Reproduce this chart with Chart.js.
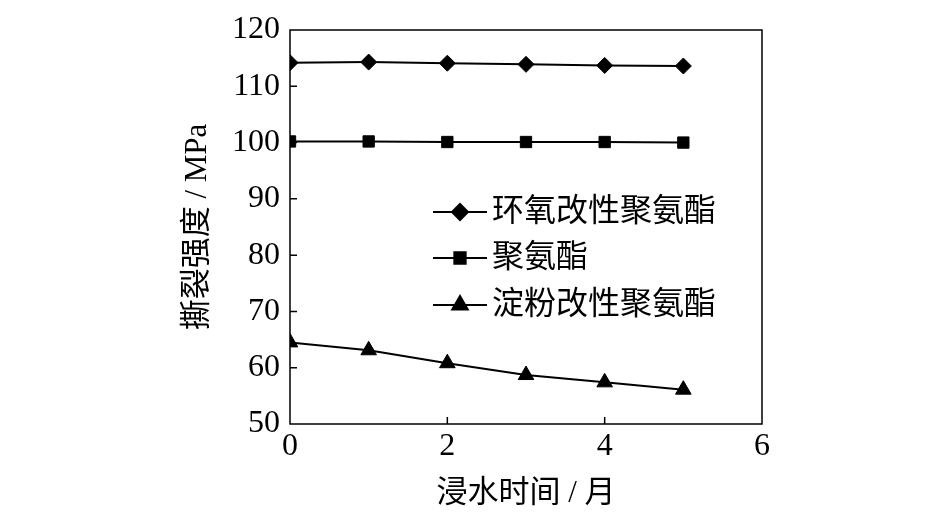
<!DOCTYPE html>
<html><head><meta charset="utf-8">
<script src="https://cdn.jsdelivr.net/npm/chart.js@4"></script>
<style>html,body{margin:0;padding:0;background:#fff}#wrap{width:945px;height:532px}</style>
</head><body><div id="wrap"><canvas id="c" width="945" height="532"></canvas></div>
<script>
const months = [0, 1, 2, 3, 4, 5];
const epoxyPU = [114.2, 114.3, 114.1, 113.9, 113.7, 113.6];
const pu = [100.2, 100.2, 100.1, 100.1, 100.1, 100.0];
const starchPU = [64.5, 63.1, 60.8, 58.7, 57.4, 56.1];
const seriesLabels = ['环氧改性聚氨酯', '聚氨酯', '淀粉改性聚氨酯'];
const xTitle = '浸水时间 / 月';
const yTitle = '撕裂强度 / MPa';

const FONT = '"Liberation Serif", "Noto Sans CJK SC", serif';

function mk(label, data, style, r) {
  return {
    label, data: months.map((m, i) => ({x: m, y: data[i]})),
    borderColor: '#000', backgroundColor: '#000', borderWidth: 2,
    pointStyle: style, pointRadius: r, pointHoverRadius: r,
    pointBorderWidth: 1, tension: 0
  };
}

const frame = {
  id: 'frame',
  afterDraw(chart) {
    const {ctx, chartArea: a, scales} = chart;
    ctx.save();
    ctx.strokeStyle = '#000';
    ctx.lineWidth = 1.5;
    ctx.strokeRect(a.left, a.top, a.right - a.left, a.bottom - a.top);
    ctx.beginPath();
    scales.y.ticks.forEach(t => {
      const y = scales.y.getPixelForValue(t.value);
      if (y > a.top + 1 && y < a.bottom - 1) { ctx.moveTo(a.left, y); ctx.lineTo(a.left + 7, y); }
    });
    scales.x.ticks.forEach(t => {
      const x = scales.x.getPixelForValue(t.value);
      if (x > a.left + 1 && x < a.right - 1) { ctx.moveTo(x, a.bottom); ctx.lineTo(x, a.bottom - 7); }
    });
    ctx.stroke();
    // legend inside plot
    const lx = 433, ly = [212, 258, 305];
    chart.data.datasets.forEach((ds, i) => {
      const y = ly[i];
      ctx.beginPath();
      ctx.lineWidth = 2;
      ctx.moveTo(lx, y); ctx.lineTo(lx + 54, y);
      ctx.stroke();
      Chart.helpers.drawPoint(ctx, {pointStyle: ds.pointStyle, radius: ds.pointRadius, borderWidth: 1}, lx + 27, y);
      ctx.fillStyle = '#000';
      ctx.font = '32px ' + FONT;
      ctx.textBaseline = 'middle';
      ctx.textAlign = 'left';
      ctx.fillText(ds.label, lx + 59, y + 1);
    });
    ctx.restore();
  }
};

new Chart(document.getElementById('c'), {
  type: 'line',
  data: {
    datasets: [
      mk(seriesLabels[0], epoxyPU, 'rectRot', 8),
      mk(seriesLabels[1], pu, 'rect', 8),
      mk(seriesLabels[2], starchPU, 'triangle', 9)
    ]
  },
  options: {
    responsive: false, animation: false,
    layout: {padding: {left: 179, right: 183, top: 30, bottom: 20}},
    plugins: {legend: {display: false}, tooltip: {enabled: false}},
    scales: {
      x: {
        type: 'linear', min: 0, max: 6,
        ticks: {stepSize: 2, color: '#000', font: {family: FONT, size: 32}, padding: 3},
        grid: {display: false, drawTicks: false},
        border: {display: false},
        title: {display: true, text: xTitle, color: '#000', font: {family: FONT, size: 31}, padding: {top: 4, bottom: 0}},
        afterFit(s) { s.height = 88; }
      },
      y: {
        min: 50, max: 120,
        ticks: {stepSize: 10, color: '#000', font: {family: FONT, size: 32}, padding: 10},
        grid: {display: false, drawTicks: false},
        border: {display: false},
        title: {display: true, text: yTitle, color: '#000', font: {family: FONT, size: 31}, padding: {top: 0, bottom: 0}},
        afterFit(s) { s.width = 111; }
      }
    }
  },
  plugins: [frame]
});
</script></body></html>
